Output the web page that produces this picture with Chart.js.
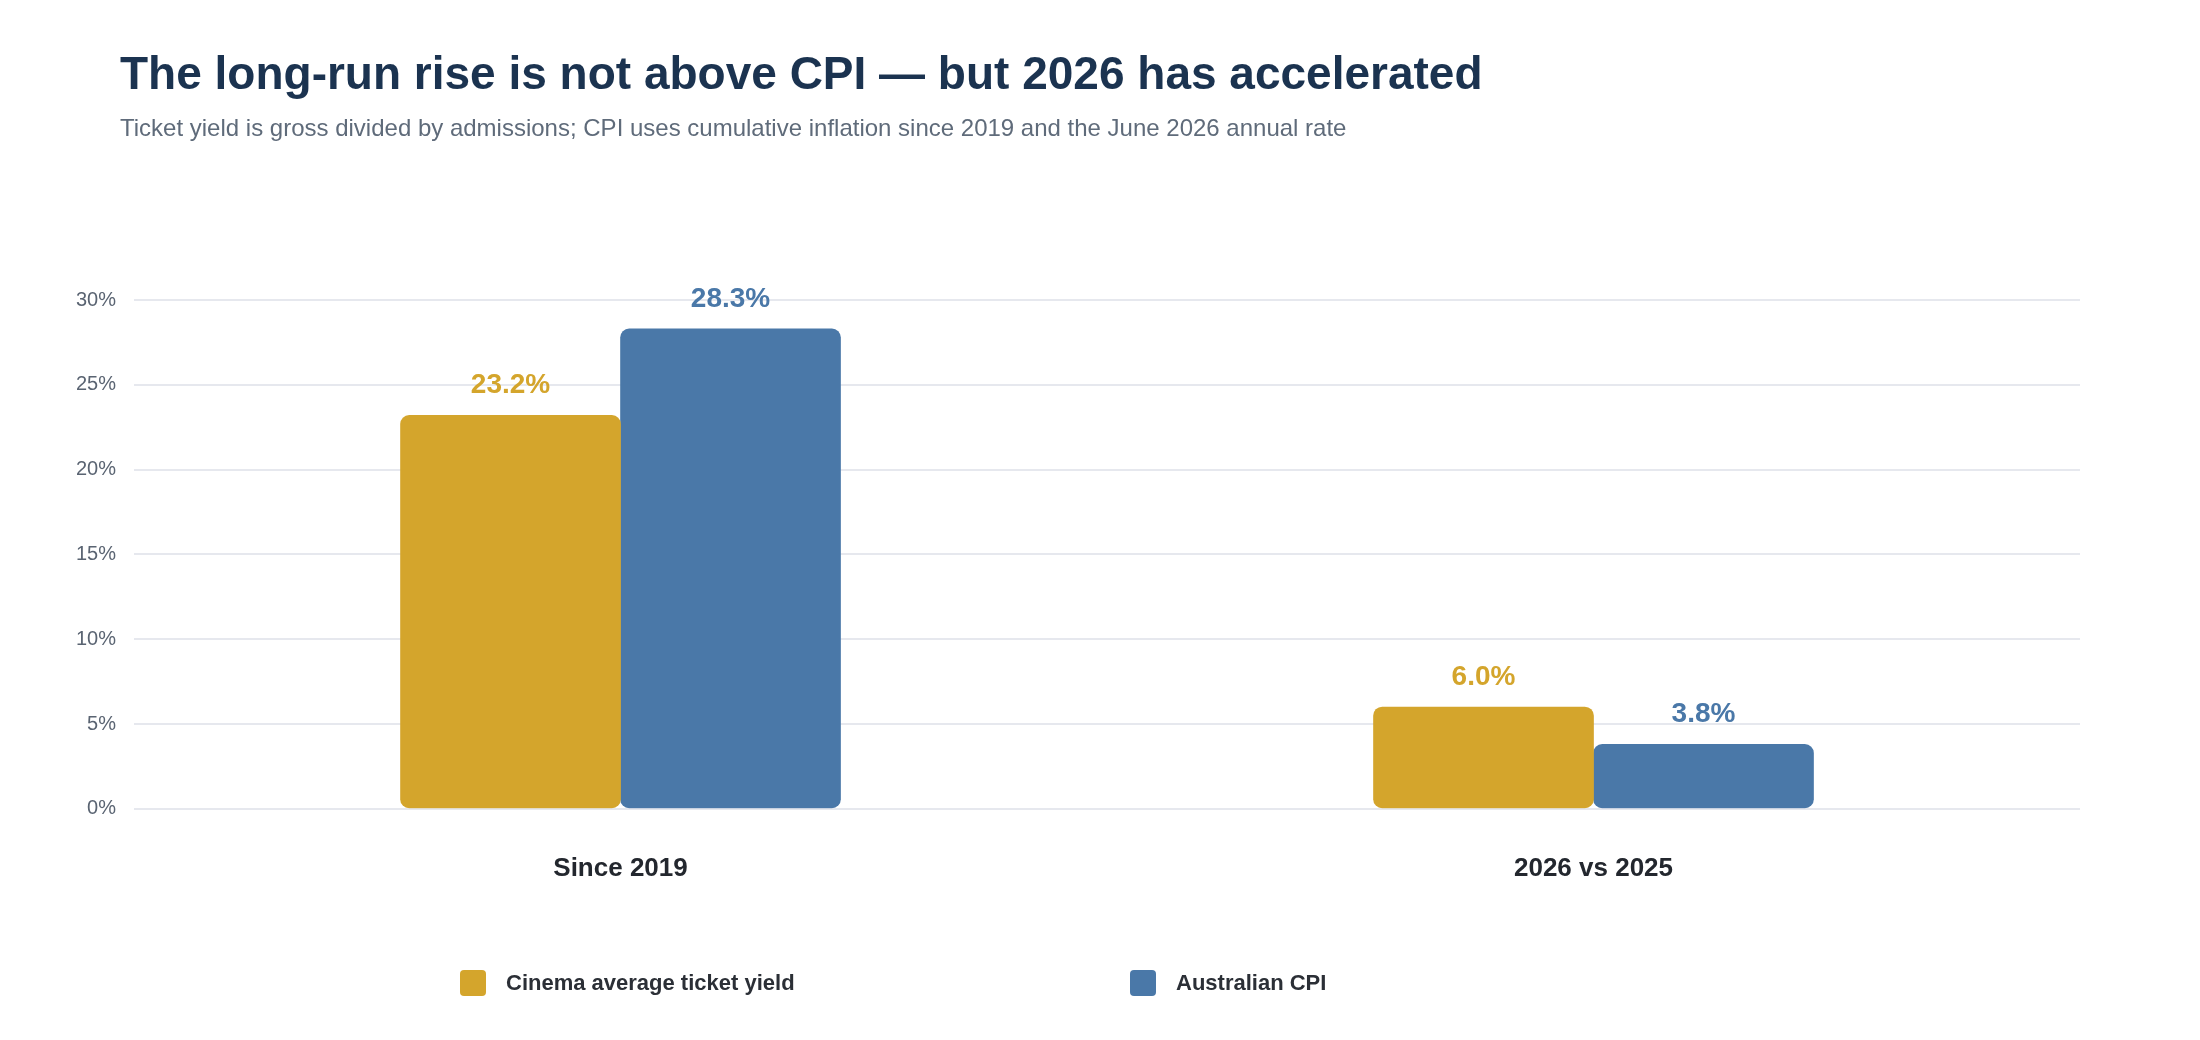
<!DOCTYPE html>
<html><head><meta charset="utf-8">
<script src="https://cdn.jsdelivr.net/npm/chart.js@4"></script>
<style>
body{margin:0;background:#fff;font-family:"Liberation Sans",Arial,sans-serif;}
#wrap{position:relative;width:2200px;height:1040px;}
#t{position:absolute;left:120px;top:46px;font-size:46px;font-weight:bold;color:#1b3350;}
#s{position:absolute;left:120px;top:114px;font-size:24px;color:#5f6b7a;}
canvas{position:absolute;left:0;top:0;}
.lg{position:absolute;top:970px;font-size:22px;font-weight:bold;color:#2b2f36;display:flex;align-items:center;}
.lg i{display:inline-block;width:26px;height:26px;border-radius:4px;margin-right:20px;}
</style></head><body>
<div id="wrap">
<canvas id="c" width="2200" height="1040"></canvas>
<div id="t">The long-run rise is not above CPI — but 2026 has accelerated</div>
<div id="s">Ticket yield is gross divided by admissions; CPI uses cumulative inflation since 2019 and the June 2026 annual rate</div>
<div class="lg" style="left:460px"><i style="background:#D4A52C"></i>Cinema average ticket yield</div>
<div class="lg" style="left:1130px"><i style="background:#4A78A8"></i>Australian CPI</div>
</div>
<script>
const categories=["Since 2019","2026 vs 2025"];
const ticketYield=[23.2,6.0];
const cpi=[28.3,3.8];
const seriesNames=["Cinema average ticket yield","Australian CPI"];
const colors=["#D4A52C","#4A78A8"];
const labelPlugin={id:"lbl",afterDatasetsDraw(ch){const c=ch.ctx;c.save();c.font="bold 28px 'Liberation Sans', Arial";c.textAlign="center";c.textBaseline="bottom";
ch.data.datasets.forEach((d,i)=>{ch.getDatasetMeta(i).data.forEach((b,j)=>{c.fillStyle=colors[i];c.fillText(d.data[j].toFixed(1)+"%",b.x,b.y-16);});});c.restore();}};
new Chart(document.getElementById("c"),{type:"bar",
data:{labels:categories,datasets:[
{label:seriesNames[0],data:ticketYield,backgroundColor:colors[0],borderRadius:9,borderSkipped:false,barThickness:220},
{label:seriesNames[1],data:cpi,backgroundColor:colors[1],borderRadius:9,borderSkipped:false,barThickness:220}]},
options:{responsive:false,animation:false,devicePixelRatio:1,categoryPercentage:0.52,
layout:{padding:{left:58,right:120,top:300,bottom:120}},
plugins:{legend:{display:false},tooltip:{enabled:false}},
scales:{y:{min:0,max:30,ticks:{stepSize:5,callback:v=>v+"%",font:{size:20,family:"Liberation Sans"},color:"#5a6472",padding:18},
grid:{color:"#e6e8ee",lineWidth:2,drawTicks:false},border:{display:false}},
x:{grid:{display:false},border:{display:false},ticks:{font:{size:26,weight:"bold",family:"Liberation Sans"},color:"#23272e",padding:36}}}},
plugins:[labelPlugin]});
</script></body></html>
